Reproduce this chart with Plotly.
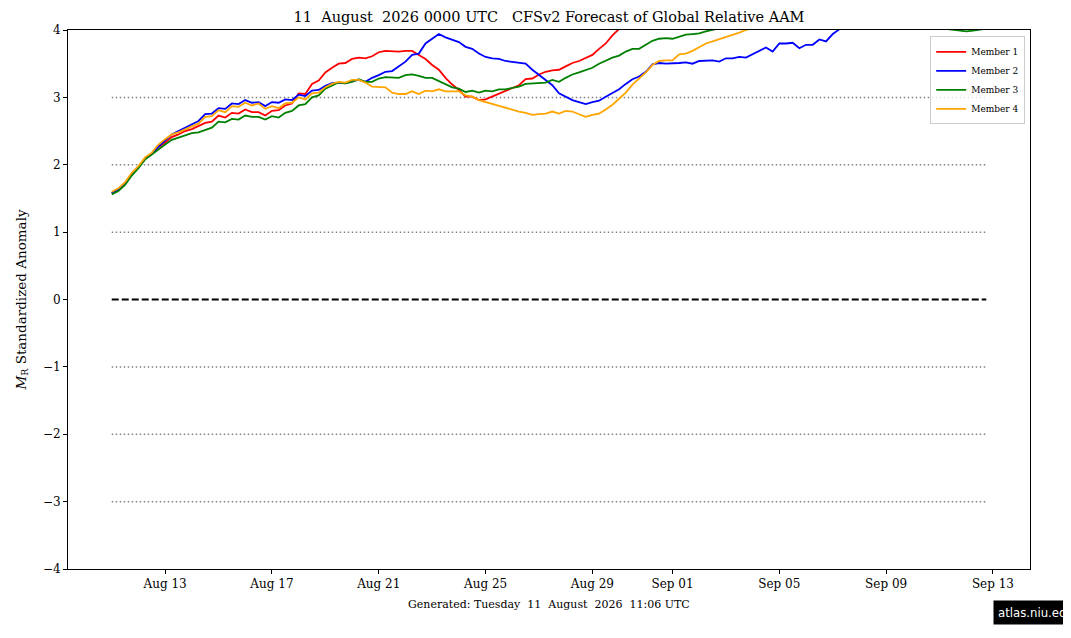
import pandas as pd
import plotly.graph_objects as go

# CFSv2 relative AAM forecast, 6-hourly from 11 Aug 2026 00Z
start_time = "2026-08-11 00:00"
step = "6h"

member1 = [
    1.58, 1.63, 1.72, 1.86, 1.96, 2.09, 2.16, 2.26, 2.33, 2.41,
    2.45, 2.50, 2.53, 2.57, 2.62, 2.64, 2.73, 2.70, 2.77, 2.76,
    2.82, 2.78, 2.78, 2.73, 2.80, 2.81, 2.88, 2.91, 3.06, 3.05,
    3.20, 3.25, 3.37, 3.44, 3.50, 3.51, 3.57, 3.59, 3.58, 3.61,
    3.67, 3.69, 3.68, 3.68, 3.69, 3.69, 3.63, 3.57, 3.48, 3.41,
    3.29, 3.19, 3.11, 3.01, 3.01, 2.96, 2.97, 3.01, 3.05, 3.09,
    3.13, 3.18, 3.27, 3.28, 3.34, 3.38, 3.40, 3.41, 3.46, 3.51,
    3.54, 3.58, 3.63, 3.72, 3.80, 3.92, 4.02, 4.12, 4.22, 4.30,
    4.38, 4.45, 4.52, 4.58, 4.63, 4.68, 4.72, 4.76, 4.80, 4.83,
    4.86, 4.88, 4.90, 4.92, 4.93, 4.94, 4.95, 4.95, 4.96, 4.96,
    4.95, 4.95, 4.94, 4.93, 4.92, 4.90, 4.89, 4.87, 4.85, 4.84,
    4.82, 4.80, 4.78, 4.77, 4.75, 4.73, 4.72, 4.70, 4.69, 4.68,
    4.66, 4.65, 4.64, 4.63, 4.62, 4.61, 4.60, 4.60, 4.59, 4.58,
    4.58, 4.57,
]
member2 = [
    1.58, 1.63, 1.72, 1.86, 1.96, 2.09, 2.16, 2.27, 2.36, 2.45,
    2.50, 2.55, 2.60, 2.65, 2.75, 2.76, 2.84, 2.83, 2.91, 2.90,
    2.96, 2.92, 2.93, 2.87, 2.93, 2.92, 2.97, 2.96, 3.04, 3.02,
    3.10, 3.11, 3.17, 3.21, 3.22, 3.21, 3.24, 3.26, 3.23, 3.29,
    3.33, 3.38, 3.39, 3.46, 3.53, 3.63, 3.65, 3.80, 3.87, 3.94,
    3.89, 3.85, 3.82, 3.75, 3.72, 3.65, 3.60, 3.58, 3.57, 3.54,
    3.53, 3.51, 3.50, 3.41, 3.33, 3.26, 3.18, 3.06, 3.01, 2.96,
    2.93, 2.90, 2.93, 2.95, 3.01, 3.06, 3.12, 3.20, 3.27, 3.31,
    3.38, 3.49, 3.51, 3.50, 3.50, 3.51, 3.52, 3.50, 3.54, 3.55,
    3.55, 3.53, 3.58, 3.58, 3.60, 3.59, 3.64, 3.69, 3.74, 3.68,
    3.80, 3.80, 3.81, 3.73, 3.78, 3.78, 3.86, 3.83, 3.94, 4.01,
    4.07, 4.12, 4.16, 4.20, 4.25, 4.28, 4.32, 4.35, 4.38, 4.41,
    4.44, 4.46, 4.49, 4.51, 4.53, 4.55, 4.57, 4.59, 4.60, 4.62,
    4.63, 4.65,
]
member3 = [
    1.56, 1.61, 1.70, 1.84, 1.95, 2.08, 2.15, 2.23, 2.30, 2.37,
    2.40, 2.43, 2.47, 2.48, 2.52, 2.55, 2.64, 2.63, 2.68, 2.67,
    2.73, 2.71, 2.71, 2.67, 2.72, 2.70, 2.77, 2.80, 2.88, 2.90,
    3.00, 3.03, 3.13, 3.17, 3.22, 3.21, 3.23, 3.27, 3.23, 3.23,
    3.28, 3.30, 3.29, 3.29, 3.33, 3.34, 3.32, 3.29, 3.29, 3.24,
    3.19, 3.15, 3.13, 3.08, 3.10, 3.07, 3.10, 3.09, 3.12, 3.12,
    3.14, 3.16, 3.20, 3.21, 3.22, 3.22, 3.26, 3.23, 3.29, 3.34,
    3.37, 3.40, 3.44, 3.50, 3.55, 3.59, 3.62, 3.68, 3.72, 3.72,
    3.78, 3.84, 3.87, 3.88, 3.87, 3.90, 3.93, 3.94, 3.95, 3.98,
    4.00, 4.02, 4.04, 4.07, 4.10, 4.13, 4.16, 4.18, 4.20, 4.22,
    4.24, 4.25, 4.26, 4.27, 4.27, 4.28, 4.28, 4.27, 4.27, 4.26,
    4.25, 4.24, 4.23, 4.21, 4.20, 4.18, 4.16, 4.14, 4.12, 4.10,
    4.08, 4.07, 4.05, 4.04, 4.03, 4.02, 4.01, 3.99, 3.98, 3.99,
    4.01, 4.02,
]
member4 = [
    1.60, 1.65, 1.74, 1.88, 1.98, 2.11, 2.18, 2.30, 2.38, 2.45,
    2.48, 2.53, 2.57, 2.61, 2.71, 2.72, 2.81, 2.78, 2.87, 2.86,
    2.92, 2.88, 2.91, 2.83, 2.87, 2.84, 2.91, 2.92, 3.00, 2.97,
    3.06, 3.07, 3.15, 3.20, 3.23, 3.22, 3.26, 3.26, 3.22, 3.16,
    3.16, 3.15, 3.07, 3.05, 3.05, 3.09, 3.05, 3.10, 3.09, 3.12,
    3.09, 3.09, 3.09, 3.03, 3.01, 2.96, 2.93, 2.90, 2.88, 2.85,
    2.82, 2.79, 2.77, 2.74, 2.75, 2.76, 2.79, 2.76, 2.80, 2.79,
    2.75, 2.71, 2.74, 2.76, 2.82, 2.89, 2.98, 3.07, 3.19, 3.28,
    3.37, 3.48, 3.54, 3.55, 3.55, 3.64, 3.65, 3.69, 3.74, 3.80,
    3.83, 3.86, 3.90, 3.93, 3.96, 4.00, 4.03, 4.06, 4.09, 4.12,
    4.15, 4.17, 4.20, 4.22, 4.24, 4.26, 4.28, 4.30, 4.31, 4.33,
    4.34, 4.35, 4.36, 4.37, 4.38, 4.39, 4.40, 4.40, 4.41, 4.41,
    4.42, 4.42, 4.42, 4.43, 4.43, 4.43, 4.43, 4.44, 4.44, 4.44,
    4.44, 4.44,
]

members = {"Member 1": member1, "Member 2": member2,
           "Member 3": member3, "Member 4": member4}
colors = ["red", "blue", "green", "orange"]

dotted_levels = [3, 2, 1, -1, -2, -3]
zero_level = 0
tick_dates = ["2026-08-13", "2026-08-17", "2026-08-21", "2026-08-25",
              "2026-08-29", "2026-09-01", "2026-09-05", "2026-09-09",
              "2026-09-13"]
y_ticks = [-4, -3, -2, -1, 0, 1, 2, 3, 4]

title = "11  August  2026 0000 UTC   CFSv2 Forecast of Global Relative AAM"
footer = "Generated: Tuesday  11  August  2026  11:06 UTC"

times = pd.date_range(start_time, periods=len(member1), freq=step)
t0, t1 = times[0], times[-1]
pad = (t1 - t0) * 0.05

serif = "DejaVu Serif, serif"

fig = go.Figure()

# reference lines across the forecast period
for lev in dotted_levels:
    fig.add_trace(go.Scatter(x=[t0, t1], y=[lev, lev], mode="lines",
                             line=dict(color="gray", width=1.5, dash="1.5px,2.5px"),
                             showlegend=False, hoverinfo="skip"))
fig.add_trace(go.Scatter(x=[t0, t1], y=[zero_level, zero_level], mode="lines",
                         line=dict(color="black", width=2, dash="7px,3px"),
                         showlegend=False, hoverinfo="skip"))

for (name, vals), c in zip(members.items(), colors):
    fig.add_trace(go.Scatter(x=times, y=vals, mode="lines", name=name,
                             line=dict(color=c, width=1.8)))

fig.update_layout(
    width=1071, height=638,
    margin=dict(l=57, r=49, t=22, b=77),
    paper_bgcolor="white", plot_bgcolor="white",
    font=dict(family=serif, color="black", size=12),
    title=dict(text=title, xref="paper", x=0.5, xanchor="center",
               y=0.986, yanchor="middle", font=dict(size=14.5, family=serif)),
    legend=dict(x=0.995, y=0.988, xanchor="right", yanchor="top",
                bgcolor="rgba(255,255,255,0.8)", bordercolor="#cccccc",
                borderwidth=1, font=dict(size=9, family=serif),
                itemwidth=30, tracegroupgap=0),
    showlegend=True,
)

fig.update_xaxes(
    range=[t0 - pad, t1 + pad], tickvals=pd.to_datetime(tick_dates),
    tickformat="%b %d", ticks="outside", ticklen=4, tickcolor="black",
    showline=True, linecolor="black", linewidth=1, mirror=True,
    showgrid=False, zeroline=False, tickfont=dict(size=12),
)
fig.update_yaxes(
    range=[-4, 4], tickvals=y_ticks, ticks="outside", ticklen=4,
    tickcolor="black", showline=True, linecolor="black", linewidth=1,
    mirror=True, showgrid=False, zeroline=False, tickfont=dict(size=12),
    title=dict(text="<i>M</i><sub>R</sub> Standardized Anomaly",
               font=dict(size=13.5), standoff=13),
)

fig.add_annotation(text=footer, xref="paper", yref="paper", x=0.5, y=-0.065,
                   xanchor="center", yanchor="middle", showarrow=False,
                   font=dict(size=11, family=serif))
fig.add_annotation(text="atlas.niu.edu", xref="paper", yref="paper",
                   x=0.9617, y=-0.0816, xanchor="left", yanchor="middle",
                   showarrow=False, bgcolor="black", borderpad=4,
                   font=dict(size=13, color="white",
                             family="DejaVu Sans Condensed, Liberation Sans Narrow, DejaVu Sans"))

fig.write_html("out.html")
